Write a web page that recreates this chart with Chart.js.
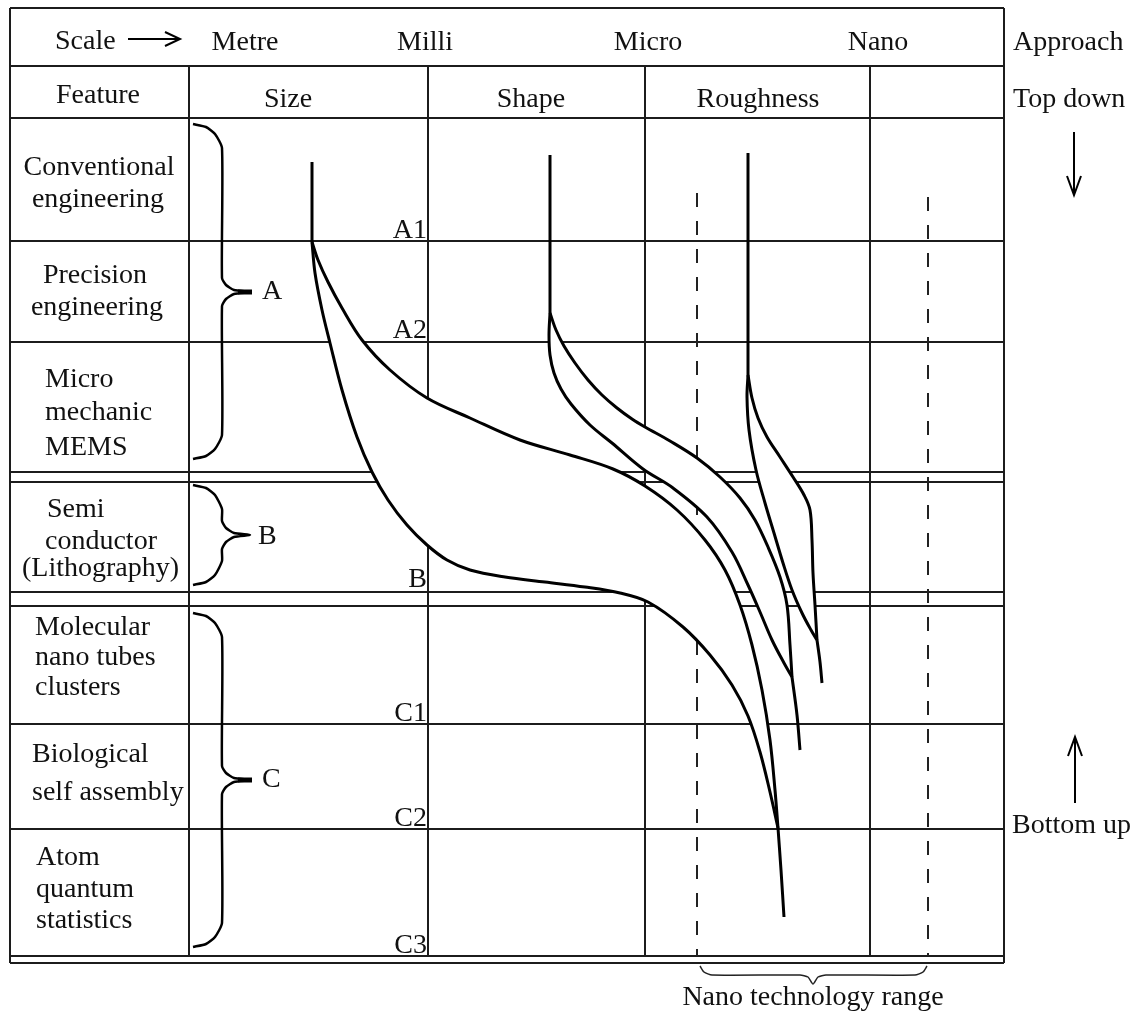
<!DOCTYPE html>
<html>
<head>
<meta charset="utf-8">
<script src="https://cdn.jsdelivr.net/npm/chart.js@4.4.1/dist/chart.umd.min.js"></script>
<style>
  html, body { margin: 0; padding: 0; background: #fff; }
  #wrap { width: 1143px; height: 1014px; position: relative; }
</style>
</head>
<body>
<div id="wrap"><canvas id="chart"></canvas></div>
<script>
// diagram units follow the picture: x to the right, y downwards
const scaleLabels = ['Metre', 'Milli', 'Micro', 'Nano'];
const featureLabels = ['Size', 'Shape', 'Roughness'];
const rowLabels = [
    ['Conventional', 'engineering'],
    ['Precision', 'engineering'],
    ['Micro', 'mechanic', 'MEMS'],
    ['Semi', 'conductor', '(Lithography)'],
    ['Molecular', 'nano tubes', 'clusters'],
    ['Biological', 'self assembly'],
    ['Atom', 'quantum', 'statistics']
];
const stageLabels = ['A1', 'A2', 'B', 'C1', 'C2', 'C3'];
const groupLabels = ['A', 'B', 'C'];

// table lines
const rowEdges = [8, 66, 118, 241, 342, 472, 482, 592, 606, 724, 829, 956, 963];
const colEdges = [189, 428, 645, 870];
const nanoLimits = [697, 928];

// the three feature curves (stem, upper branch, lower branch, tail)
const sizeStem = [[312, 162], [312, 242]];
const sizeUpper = [[312, 242], [318, 260], [328, 282], [342, 308], [362, 340], [390, 370], [427, 398], [470, 418], [520, 440], [570, 455], [613, 469], [645, 486], [677, 510], [705, 540], [725, 570], [740, 605], [752, 645], [762, 690], [770, 740], [775, 790], [778, 828]];
const sizeLower = [[312, 242], [315, 273], [322, 310], [330, 343], [342, 390], [357, 437], [372, 472], [388, 500], [407, 525], [427, 545], [447, 560], [470, 570], [505, 577], [545, 582], [585, 587], [620, 593], [648, 602], [683, 627], [710, 655], [732, 685], [748, 716], [760, 752], [770, 792], [778, 828]];
const sizeTail = [[778, 828], [781, 870], [784, 917]];

const shapeStem = [[550, 155], [550, 313]];
const shapeUpper = [[550, 313], [556, 330], [564, 346], [575, 363], [588, 380], [602, 395], [617, 408], [632, 419], [645, 427], [670, 441], [697, 458], [720, 477], [740, 498], [755, 520], [768, 547], [780, 577], [787, 605], [790, 645], [792, 677]];
const shapeLower = [[550, 313], [549, 335], [550, 355], [554, 373], [561, 389], [571, 404], [590, 425], [612, 443], [643, 469], [673, 488], [707, 517], [732, 552], [748, 585], [760, 612], [772, 640], [784, 663], [792, 677]];
const shapeTail = [[792, 677], [797, 715], [800, 750]];

const roughStem = [[748, 153], [748, 375]];
const roughUpper = [[748, 375], [752, 398], [758, 418], [767, 437], [780, 457], [793, 477], [804, 495], [810, 510], [812, 540], [813, 573], [815, 605], [817, 640]];
const roughLower = [[748, 375], [747, 397], [749, 430], [756, 470], [765, 503], [774, 533], [783, 563], [792, 590], [802, 613], [811, 630], [817, 640]];
const roughTail = [[817, 640], [820, 662], [822, 683]];

// braces: top, tip, bottom
const braceA = [124, 292, 459];
const braceB = [485, 535, 585];
const braceC = [613, 780, 947];
const nanoBrace = [[700, 966], [704, 972], [712, 975], [800, 975], [808, 977], [813, 984], [818, 977], [826, 975], [915, 975], [923, 972], [927, 966]];

const LEFT = 10, RIGHT = 1004;

function pts(arr) {
    return arr.map(p => ({ x: p[0], y: p[1] }));
}

function line(arr, opts) {
    return Object.assign({
        data: pts(arr),
        borderColor: '#000',
        borderWidth: 3,
        tension: 0.35,
        fill: false,
        order: 1
    }, opts || {});
}

function bracePts(b) {
    const [top, mid, bot] = b;
    return [[193, top], [206, top + 3], [215, top + 10], [222, top + 24],
        [222, mid - 14], [226, mid - 7], [234, mid - 2], [250, mid],
        [234, mid + 2], [226, mid + 7], [222, mid + 14],
        [222, bot - 24], [215, bot - 10], [206, bot - 3], [193, bot]];
}

const gridStyle = { borderColor: '#1c1c1c', borderWidth: 2, tension: 0, order: 10 };

const datasets = [];

// horizontal rules
rowEdges.forEach(yv => datasets.push(line([[LEFT, yv], [RIGHT, yv]], gridStyle)));
// outer box sides
datasets.push(line([[LEFT, rowEdges[0]], [LEFT, rowEdges[rowEdges.length - 1]]], gridStyle));
datasets.push(line([[RIGHT, rowEdges[0]], [RIGHT, rowEdges[rowEdges.length - 1]]], gridStyle));
// inner columns
colEdges.forEach(xv => datasets.push(line([[xv, rowEdges[1]], [xv, rowEdges[11]]], gridStyle)));
// nano technology range (dashed)
datasets.push(line([[nanoLimits[0], 193], [nanoLimits[0], 956]], { borderColor: '#222', borderWidth: 2, borderDash: [14, 14], tension: 0, order: 9 }));
datasets.push(line([[nanoLimits[1], 197], [nanoLimits[1], 956]], { borderColor: '#222', borderWidth: 2, borderDash: [14, 14], tension: 0, order: 9 }));

// white inside of each curve pair
[[sizeUpper, sizeLower], [shapeUpper, shapeLower], [roughUpper, roughLower]].forEach(pair => {
    datasets.push(line(pair[0].concat(pair[1].slice().reverse()), {
        borderWidth: 0, borderColor: 'rgba(0,0,0,0)', backgroundColor: '#fff', fill: 'shape', order: 5
    }));
});

// curves
[sizeStem, sizeUpper, sizeLower, sizeTail,
 shapeStem, shapeUpper, shapeLower, shapeTail,
 roughStem, roughUpper, roughLower, roughTail].forEach(c => datasets.push(line(c)));

// braces
[braceA, braceB, braceC].forEach(b => datasets.push(line(bracePts(b), { borderWidth: 2.5, tension: 0.2 })));
// bold tips on A and C
[braceA, braceC].forEach(b => datasets.push(line([[238, b[1]], [252, b[1]]], { borderWidth: 5, tension: 0 })));
datasets.push(line(nanoBrace, { borderWidth: 1.5, tension: 0.2, borderColor: '#222' }));

// arrows
const arrowStyle = { borderWidth: 2, tension: 0 };
datasets.push(line([[128, 39], [180, 39]], arrowStyle));
datasets.push(line([[165, 32], [180, 39], [165, 46]], arrowStyle));
datasets.push(line([[1074, 132], [1074, 195]], arrowStyle));
datasets.push(line([[1067, 176], [1074, 195], [1081, 176]], arrowStyle));
datasets.push(line([[1075, 737], [1075, 803]], arrowStyle));
datasets.push(line([[1068, 756], [1075, 737], [1082, 756]], arrowStyle));

// text placement
const scaleLabelX = [245, 425, 648, 878];
const featureLabelX = [288, 531, 758];
const rowLabelPos = [
    [[99, 175, 'center'], [98, 207, 'center']],
    [[95, 283, 'center'], [97, 315, 'center']],
    [[45, 387], [45, 420], [45, 455]],
    [[47, 517], [45, 549], [22, 576]],
    [[35, 635], [35, 665], [35, 695]],
    [[32, 762], [32, 800]],
    [[36, 865], [36, 897], [36, 928]]
];
const stageLabelY = [238, 338, 587, 721, 826, 953];
const groupLabelPos = [[262, 299], [258, 544], [262, 787]];

const textPlugin = {
    id: 'diagramText',
    afterDatasetsDraw(chart) {
        const { ctx, scales } = chart;
        const sx = scales.x, sy = scales.y;
        ctx.save();
        ctx.fillStyle = '#111';
        ctx.font = '28px "Liberation Serif", "Times New Roman", serif';
        ctx.textBaseline = 'alphabetic';
        const put = (t, px, py, align) => {
            ctx.textAlign = align || 'left';
            ctx.fillText(t, sx.getPixelForValue(px), sy.getPixelForValue(py));
        };
        put('Scale', 55, 49);
        scaleLabels.forEach((t, i) => put(t, scaleLabelX[i], 50, 'center'));
        put('Feature', 98, 103, 'center');
        featureLabels.forEach((t, i) => put(t, featureLabelX[i], 107, 'center'));
        put('Approach', 1013, 50);
        put('Top down', 1013, 107);
        put('Bottom up', 1012, 833);
        rowLabels.forEach((lines, r) => {
            lines.forEach((t, k) => {
                const p = rowLabelPos[r][k];
                put(t, p[0], p[1], p[2]);
            });
        });
        stageLabels.forEach((t, i) => put(t, 427, stageLabelY[i], 'right'));
        groupLabels.forEach((t, i) => put(t, groupLabelPos[i][0], groupLabelPos[i][1]));
        put('Nano technology range', 813, 1005, 'center');
        ctx.restore();
    }
};

new Chart(document.getElementById('chart'), {
    type: 'scatter',
    data: { datasets: datasets },
    options: {
        responsive: true,
        maintainAspectRatio: false,
        animation: false,
        showLine: true,
        layout: { padding: 0 },
        elements: { point: { radius: 0, hoverRadius: 0 } },
        plugins: { legend: { display: false }, tooltip: { enabled: false } },
        events: [],
        scales: {
            x: { type: 'linear', min: 0, max: 1143, display: false },
            y: { type: 'linear', min: 0, max: 1014, reverse: true, display: false }
        }
    },
    plugins: [textPlugin]
});
</script>
</body>
</html>
